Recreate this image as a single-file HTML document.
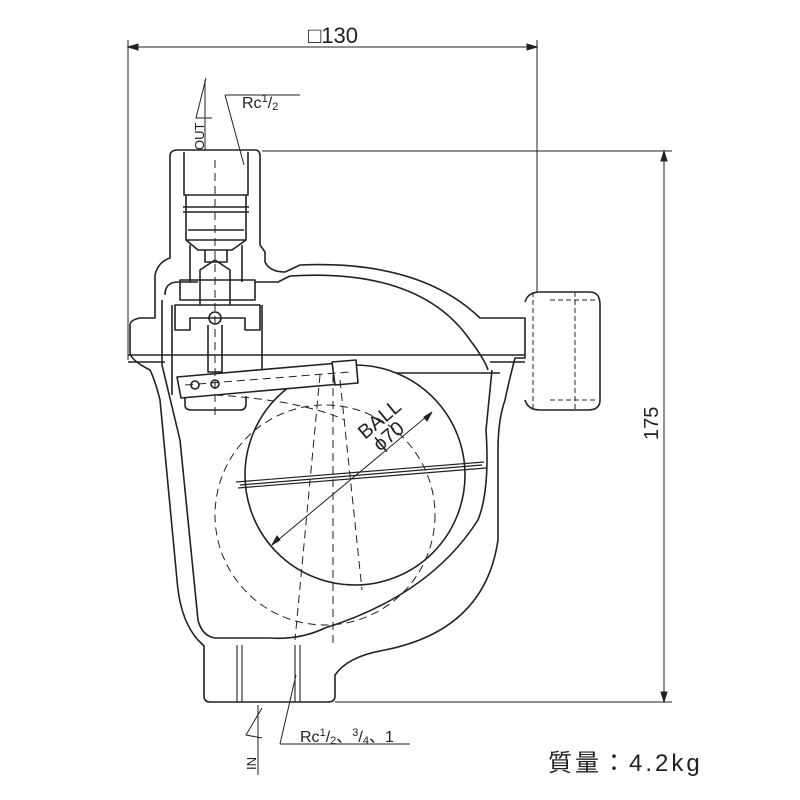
<!DOCTYPE html>
<html><head><meta charset="utf-8"><style>
html,body{margin:0;padding:0;background:#fff}
svg{display:block}
text{font-family:"Liberation Sans","Noto Sans CJK JP",sans-serif;fill:#222}
</style></head><body>
<svg width="800" height="800" viewBox="0 0 800 800" xmlns="http://www.w3.org/2000/svg">
<g fill="none" stroke="#222" stroke-width="1">
<line x1="128" y1="40" x2="128" y2="360"/>
<line x1="537" y1="40" x2="537" y2="292"/>
<line x1="128" y1="47" x2="537" y2="47"/>
<path d="M128 47 l10 -3 v6z M537 47 l-10 -3 v6z" fill="#222"/>
<line x1="262" y1="151" x2="672" y2="151"/>
<line x1="335" y1="702" x2="672" y2="702"/>
<line x1="664" y1="151" x2="664" y2="702"/>
<path d="M664 151 l-3 10 h6z M664 702 l-3 -10 h6z" fill="#222"/>
</g>
<g fill="none" stroke="#222" stroke-width="1.6" stroke-linejoin="round">
<path d="M178 150 H255 Q260 150 260 156 V245 L265 252 V262 Q270 272 285 272 L300 265 Q420 260 480 318 H525 V358 H515 Q508 385 505 400 Q498 420 498 450 V540 Q485 630 385 650 Q348 656 335 675 V696 Q335 702 328 702 H210 Q204 702 204 696 V646 L198 640 Q180 620 177 580 L160 400 Q155 380 150 370 Q130 360 130 352 V325 Q130 320 140 318 H155 V275 Q158 262 170 258 V156 Q170 150 178 150 Z"/>
<path d="M165 295 Q165 282 178 282 H198 M255 282 H278 L290 276 Q420 268 470 340 Q485 360 488 370 M162 300 V365 L180 440 L198 620 Q202 636 215 638 H270 Q300 640 325 628 Q430 595 478 520 Q490 490 486 430 L492 370"/>
<line x1="128" y1="355" x2="525" y2="355"/>
<line x1="128" y1="362" x2="165" y2="362"/>
<line x1="490" y1="362" x2="525" y2="362"/>
<line x1="258" y1="373" x2="500" y2="373"/>
<path d="M184 152 V195 H248 V152 M186 195 V240 H246 V195 M183 207 H249 M183 212 H249 M188 230 H244 M186 240 L198 250 H232 L246 240"/>
<path d="M190 245 V282 M242 245 V282 M205 250 V262 H227 V250"/>
<path d="M180 280 H255 V300 H180Z M175 305 H260 V330 H245 V318 H190 V330 H175Z M200 270 L215 260 L230 270 V305 H200Z"/>
<circle cx="215" cy="318" r="6"/>
<path d="M208 325 V372 H222 V325"/>
<path d="M172 305 V395 M262 305 V372"/>
<circle cx="355" cy="475" r="110" fill="#fff"/>
<path d="M177 377 L350 362 L352 383 L181 398 Z" fill="#fff"/>
<path d="M332 362 L356 360 L358 383 L335 385Z" fill="#fff"/>
<circle cx="195" cy="385" r="4"/>
<circle cx="215" cy="384" r="4"/>
<path d="M185 398 V405 Q185 410 192 410 H240 Q246 410 246 404 V396"/>
<path d="M236 482 L484 462 M238 488 L486 468 M240 485 L482 465" stroke-width="1.2"/>
<path d="M237 645 V702 M242 645 V702 M295 645 V702 M300 645 V702" stroke-width="1.1"/>
<path d="M525 302 Q528 292 540 292 H590 Q600 292 600 305 V400 Q600 410 588 410 H540 Q528 410 525 400"/>
<path d="M533 292 V410 M575 292 V410 M550 300 H598 M550 400 H598" stroke-width="1" stroke-dasharray="5 3"/>
</g>
<g fill="none" stroke="#222" stroke-width="1" stroke-dasharray="8 5">
<circle cx="325" cy="515" r="110"/>
<line x1="333" y1="375" x2="333" y2="645"/>
<line x1="215" y1="160" x2="215" y2="420"/>
<path d="M320 375 L295 640 M340 380 L362 590"/>
<path d="M215 395 Q300 400 345 420"/>
<line x1="185" y1="385" x2="350" y2="372"/>
</g>
<g stroke="#222" stroke-width="1" fill="none">
<line x1="272" y1="545" x2="432" y2="412"/>
<path d="M272 545 l5 -9 l3 4z M432 412 l-5 9 l-3 -4z" fill="#222"/>
<line x1="225" y1="95" x2="300" y2="95"/>
<line x1="225" y1="95" x2="244" y2="165"/>
<line x1="280" y1="744" x2="410" y2="744"/>
<line x1="280" y1="744" x2="296" y2="675"/>
<path d="M206 78 L196 118 L212 118" />
<line x1="205" y1="80" x2="205" y2="150"/>
<path d="M262 708 L246 735 L262 738"/>
<line x1="258" y1="705" x2="258" y2="775"/>
</g>
<text x="333" y="43" font-size="22" text-anchor="middle">□130</text>
<text x="242" y="108" font-size="16">Rc<tspan font-size="11" dy="-6">1</tspan><tspan dy="6">/</tspan><tspan font-size="11" dy="2">2</tspan></text>
<text x="300" y="742" font-size="16">Rc<tspan font-size="11" dy="-6">1</tspan><tspan dy="6">/</tspan><tspan font-size="11" dy="2">2</tspan><tspan dy="-2">、</tspan><tspan font-size="11" dy="-6">3</tspan><tspan dy="6">/</tspan><tspan font-size="11" dy="2">4</tspan><tspan dy="-2">、1</tspan></text>
<text transform="translate(204,150) rotate(-90)" font-size="13">OUT</text>
<text transform="translate(256,770) rotate(-90)" font-size="13">IN</text>
<text transform="translate(658,440) rotate(-90)" font-size="20">175</text>
<text transform="translate(365,440) rotate(-40)" font-size="20">BALL</text>
<text transform="translate(380,452) rotate(-40)" font-size="20">ϕ70</text>
<text x="548" y="771" font-size="24" letter-spacing="3">質量：4.2kg</text>
</svg>
</body></html>
